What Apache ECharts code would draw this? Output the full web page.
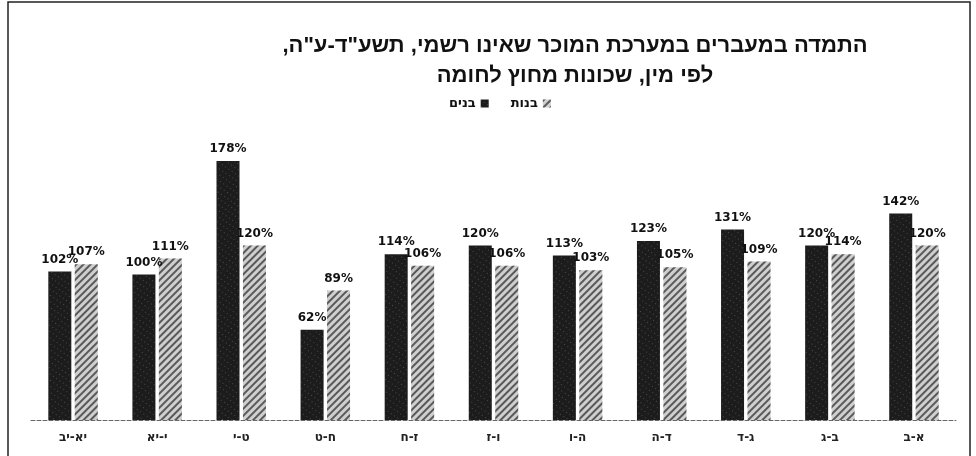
<!DOCTYPE html>
<html><head><meta charset="utf-8">
<script src="https://cdn.jsdelivr.net/npm/echarts@6/dist/echarts.min.js"></script>
<style>html,body{margin:0;padding:0;background:#fff}#c{width:976px;height:456px}</style>
</head><body><div id="c" dir="rtl"></div>
<script>
const categories = ['יא-יב','י-יא','ט-י','ח-ט','ז-ח','ו-ז','ה-ו','ד-ה','ג-ד','ב-ג','א-ב'];
const boys  = [102,100,178,62,114,120,113,123,131,120,142];
const girls = [107,111,120,89,106,106,103,105,109,114,120];
const seriesNames = ['בנים','בנות'];
const titleText = 'התמדה במעברים במערכת המוכר שאינו רשמי, תשע"ד-ע"ה,\nלפי מין, שכונות מחוץ לחומה';

const chart = echarts.init(document.getElementById('c'));
const lbl = {show:true, position:'top', distance:6, formatter:p=>p.value+'%', color:'#111', fontSize:12, fontWeight:'bold', fontFamily:'DejaVu Sans, sans-serif'};
chart.setOption({
  animation:false,
  backgroundColor:'#fff',
  title:{text:titleText, left:570, textAlign:'center', top:26,
    textStyle:{fontFamily:'Liberation Sans, Arial, DejaVu Sans, sans-serif', fontWeight:'bold', fontSize:22, lineHeight:30, color:'#111'}},
  legend:{data:seriesNames, left:444, top:92, align:'right', icon:'rect', itemWidth:8, itemHeight:8, itemGap:22,
    textStyle:{fontFamily:'DejaVu Sans, sans-serif', fontWeight:'bold', fontSize:13, color:'#111'}},
  grid:{left:31, right:20, top:129, bottom:36, containLabel:false},
  xAxis:{type:'category', data:categories,
    axisLine:{lineStyle:{color:'#666', type:'dashed', width:1}},
    axisTick:{show:false},
    axisLabel:{margin:12, color:'#222', fontSize:12, fontWeight:'bold', fontFamily:'DejaVu Sans, sans-serif'}},
  yAxis:{type:'value', min:0, max:200, show:false, splitLine:{show:false}},
  series:[
    {name:seriesNames[0], type:'bar', data:boys, barWidth:23, barGap:'15%',
      itemStyle:{color:'#1c1c1c', decal:{symbol:'rect', color:'rgba(120,120,120,0.5)', dashArrayX:[1,3], dashArrayY:[1,4], rotation:0.6}},
      label:lbl},
    {name:seriesNames[1], type:'bar', data:girls, barWidth:23,
      itemStyle:{color:'#cfcfcf', decal:{symbol:'rect', color:'rgba(50,50,50,0.75)', dashArrayX:[1,0], dashArrayY:[2,3], rotation:-Math.PI/4}},
      label:lbl}
  ],
  graphic:[{type:'rect', shape:{x:8, y:2, width:962, height:470}, style:{fill:'none', stroke:'#222', lineWidth:1.5}, silent:true}]
});
</script></body></html>
